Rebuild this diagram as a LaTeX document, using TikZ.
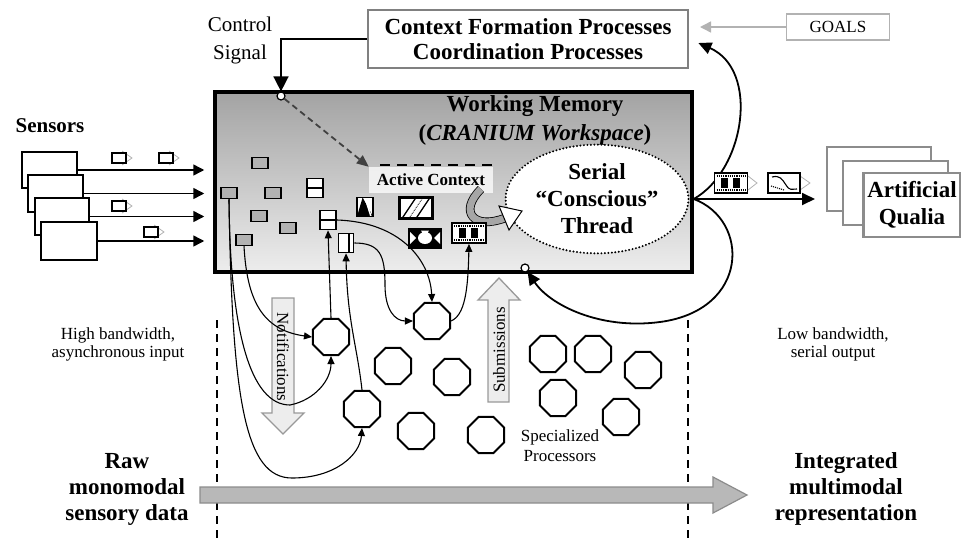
\documentclass[tikz,border=0pt]{standalone}
\usepackage{fontspec}
\setmainfont{Liberation Serif}
\usetikzlibrary{arrows.meta, shapes.geometric, calc}
\definecolor{wmtop}{gray}{0.64}
\definecolor{wmbot}{gray}{0.93}
\definecolor{frame}{gray}{0.5}
\definecolor{pale}{gray}{0.93}
\definecolor{gray70}{gray}{0.7}
\newcommand{\fsz}[2]{\fontsize{#1}{#2}\selectfont}
\newcommand{\pkt}[2]{%
  \draw[gray70, line width=0.8pt] (#1+3,#2-7) -- (#1+13,#2) -- (#1+3,#2+7);
  \draw[line width=1.6pt, fill=white] (#1-7,#2-5) rectangle (#1+7,#2+5);}

\begin{document}
\begin{tikzpicture}[x=1pt, y=-1pt,
  item/.style={draw, line width=1.5pt, fill=black!30, minimum width=16pt, minimum height=11pt, inner sep=0pt},
  band/.style={draw, line width=1.6pt, fill=white, minimum width=16pt, minimum height=19pt, inner sep=0pt,
    path picture={\draw[line width=1.6pt] (path picture bounding box.west) -- (path picture bounding box.east);}},
  bar/.style={draw, line width=1.6pt, fill=white, minimum width=15pt, minimum height=19pt, inner sep=0pt,
    path picture={\draw[line width=1.4pt] ($(path picture bounding box.north)+(3,0)$) -- ($(path picture bounding box.south)+(3,0)$);}},
  film/.style={draw, line width=1.8pt, fill=white, minimum width=34pt, minimum height=20pt, inner sep=0pt,
    path picture={\fill[black] ($(path picture bounding box.center)+(-10,-5)$) rectangle ++(7,10);
      \fill[black] ($(path picture bounding box.center)+(2,-5)$) rectangle ++(7,10);
      \draw[line width=1.2pt, densely dotted] ($(path picture bounding box.north west)+(2,3)$) -- ($(path picture bounding box.north east)+(-2,3)$);
      \draw[line width=1.2pt, densely dotted] ($(path picture bounding box.south west)+(2,-3)$) -- ($(path picture bounding box.south east)+(-2,-3)$);}},
  proc/.style={regular polygon, regular polygon sides=8, draw, line width=2pt, fill=white, minimum size=39pt, inner sep=0pt},
  dot/.style={circle, draw, line width=1.2pt, fill=white, minimum size=8pt, inner sep=0pt},
  sensor/.style={draw, line width=1.8pt, fill=white, inner sep=0pt},
  card/.style={draw=black!45, line width=2.2pt, fill=white, minimum width=104pt, minimum height=64pt, inner sep=0pt},
  conn/.style={line width=1.1pt, -{Triangle[length=8pt, width=7pt]}},
  sarrow/.style={line width=1.5pt, -{Triangle[length=11pt, width=11pt]}},
  rarrow/.style={line width=1.8pt, -{Triangle[length=13pt, width=12pt]}},
  blockarr/.style={fill=pale, draw=black!40, line width=1.3pt},
  vline/.style={line width=1.5pt, dash pattern=on 8pt off 6pt}]

  \useasboundingbox (0,0) rectangle (961,541);

  \node[draw=frame, line width=2.5pt, fill=white, minimum width=320pt, minimum height=58pt, align=center,
    font=\bfseries\fsz{23}{25}] (ctx) at (528,39) {Context Formation Processes\\Coordination Processes};
  \node[draw=black!30, line width=1.5pt, minimum width=103pt, minimum height=26pt, font=\fsz{17}{17}] (goals) at (838,27) {GOALS};
  \coordinate (gin) at (700,27);
  \draw[gray70, line width=1.5pt, -{Triangle[length=11pt, width=11pt]}] (goals.west) -- (gin);

  \node[align=center, font=\fsz{21}{28}] (ctrl) at (240,40) {Control\\Signal};

  \node[draw, line width=3.5pt, top color=wmtop, bottom color=wmbot, minimum width=477pt, minimum height=180pt] (wm) at (453.5,182) {};
  \node[align=center, font=\bfseries\fsz{23}{29}] (wmtitle) at (535,120) {Working Memory\\(\textit{CRANIUM Workspace})};

  \node[dot] (cdot) at (281,96) {};
  \node[dot] (wdot) at (525,268) {};
  \draw[line width=1.5pt, -{Triangle[length=15pt, width=15pt]}] (ctx.west) -| (cdot.north);

  \node[fill=white, fill opacity=0.75, text opacity=1, minimum width=124pt, minimum height=26pt, inner sep=0pt,
    font=\bfseries\fsz{17}{17}] (actx) at (431,180) {Active Context};
  \draw[line width=2.5pt, dash pattern=on 10pt off 7pt] (380,165) -- (493,165);
  \draw[black!75, line width=1.8pt, dash pattern=on 6pt off 4pt, -{Triangle[length=12pt, width=10pt]}] (cdot) -- (actx.north west);

  \node[ellipse, draw, line width=2.2pt, line cap=round, dash pattern=on 0pt off 3.5pt, fill=white, minimum width=171pt,
    minimum height=100pt, align=center, font=\bfseries\fsz{23}{27}] (thread) at (597,199) {Serial\\“Conscious”\\Thread};

  \draw[double=black!35, double distance=7pt, line width=0.8pt] (481,189) .. controls (458,212) and (474,230) .. (505,218);
  \draw[fill=white, line width=1pt] (522,211) -- (509,230) -- (499,206) -- cycle;

  \node[item] (m1) at (260,163) {};
  \node[item] (m2) at (229,193) {};
  \node[item] (m3) at (273,193) {};
  \node[item] (m4) at (259,216) {};
  \node[item] (m5) at (288,228) {};
  \node[item] (m6) at (244,240) {};

  \node[band] (b1) at (315,188) {};
  \node[band] (b2) at (328,220) {};
  \node[bar] (b3) at (346,243) {};

  \node[draw, line width=1.6pt, fill=white, minimum width=16pt, minimum height=19pt, inner sep=0pt,
    path picture={\fill[black] (path picture bounding box.south west) -- ($(path picture bounding box.north west)!0.35!(path picture bounding box.north east)$) -- (path picture bounding box.south east) -- cycle;
      \draw[white, line width=1.5pt] ($(path picture bounding box.north west)!0.5!(path picture bounding box.north east)$) -- ($(path picture bounding box.south east)+(-2,0)$);}] (d1) at (365,207) {};
  \node[draw, line width=2.4pt, fill=white, minimum width=33pt, minimum height=21pt, inner sep=0pt,
    path picture={\draw[line width=1.3pt] ($(path picture bounding box.south)+(-14,0)$) -- ($(path picture bounding box.north)+(0,0)$);
      \draw[line width=1.3pt] ($(path picture bounding box.south)+(0,0)$) -- ($(path picture bounding box.north)+(14,0)$);
      \draw[line width=0.8pt, densely dotted] ($(path picture bounding box.south)+(-7,0)$) -- ($(path picture bounding box.north)+(7,0)$);}] (h1) at (416,208) {};
  \node[fill=black, minimum width=34pt, minimum height=21pt, inner sep=0pt,
    path picture={\fill[white] (path picture bounding box.center) ellipse (7pt and 6pt);
      \fill[white] ($(path picture bounding box.north)+(-4,3)$) -- ($(path picture bounding box.north)+(4,3)$) -- (path picture bounding box.center) -- cycle;
      \fill[white] ($(path picture bounding box.west)+(2,-6)$) -- ($(path picture bounding box.west)+(2,6)$) -- ($(path picture bounding box.west)+(8,0)$) -- cycle;
      \fill[white] ($(path picture bounding box.east)+(-2,-6)$) -- ($(path picture bounding box.east)+(-2,6)$) -- ($(path picture bounding box.east)+(-8,0)$) -- cycle;}] (k1) at (425,238) {};
  \node[film] (f1) at (469,233) {};

  \node[sensor, minimum width=55pt, minimum height=36pt] (s1) at (49.5,170) {};
  \node[sensor, minimum width=55pt, minimum height=37pt] (s2) at (55.5,193.5) {};
  \node[sensor, minimum width=54pt, minimum height=37pt] (s3) at (62,216.5) {};
  \node[sensor, minimum width=56pt, minimum height=38pt] (s4) at (69,241) {};
  \node[font=\bfseries\fsz{21}{21}] (senslbl) at (50,126) {Sensors};
  \draw[sarrow, shorten >=9pt] (s1.east) -- (s1.east -| wm.west);
  \draw[sarrow, shorten >=9pt] (s2.east) -- (s2.east -| wm.west);
  \draw[sarrow, shorten >=9pt] (s3.east) -- (s3.east -| wm.west);
  \draw[sarrow, shorten >=9pt] (s4.east) -- (s4.east -| wm.west);
  \pkt{119}{158}
  \pkt{166}{158}
  \pkt{119}{206}
  \pkt{151}{232}

  \node[proc] (p1) at (331,337) {};
  \node[proc] (p2) at (432,321) {};
  \node[proc] (p3) at (393,366) {};
  \node[proc] (p4) at (452,377) {};
  \node[proc] (p5) at (362,409) {};
  \node[proc] (p6) at (416,431) {};
  \node[proc] (p7) at (486,435) {};
  \node[proc] (p8) at (548,354) {};
  \node[proc] (p9) at (593,354) {};
  \node[proc] (p10) at (643,370) {};
  \node[proc] (p11) at (558,398) {};
  \node[proc] (p12) at (621,417) {};

  \draw[blockarr] (272,298) -- (294,298) -- (294,413) -- (304,413) -- (283,434) -- (262,413) -- (272,413) -- cycle;
  \node[rotate=-90, font=\fsz{17}{17}] (notif) at (283,357) {Notifications};
  \draw[blockarr] (499,278) -- (520,300) -- (509,300) -- (509,402) -- (488,402) -- (488,300) -- (478,300) -- cycle;
  \node[rotate=90, font=\fsz{17}{17}] (subm) at (499,350) {Submissions};

  \draw[conn] (m6.south) .. controls (247,300) and (262,330) .. (p1.west);
  \draw[conn] (m2.south) .. controls (230,330) and (250,405) .. (290,405) .. controls (315,400) and (331,380) .. (p1.south);
  \draw[conn] (m2.south) .. controls (232,400) and (245,478) .. (292,478) .. controls (335,478) and (360,455) .. (p5.south);
  \draw[conn] (p1.north) -- (b2.south);
  \draw[conn] (p5.north) .. controls (357,345) and (347,320) .. (b3.south);
  \draw[conn] (b2.east) .. controls (400,222) and (430,260) .. (p2.north);
  \draw[conn] (b3.east) .. controls (380,243) and (385,255) .. (385,285) .. controls (385,310) and (395,321) .. (p2.west);
  \draw[conn] (p2.east) .. controls (465,315) and (468,290) .. (f1.south);

  \coordinate (junc) at (wm.east |- thread.east);
  \coordinate (qin) at (815,199);
  \draw[line width=1.8pt] (thread.east) -- (junc);
  \draw[rarrow] (junc) -- (qin);
  \draw[rarrow, shorten >=10pt] (junc) .. controls (745,170) and (760,70) .. (ctx.east);
  \draw[rarrow] (junc) .. controls (750,220) and (750,310) .. (660,322) .. controls (600,330) and (550,305) .. (wdot);

  \node[film, minimum width=33pt] (f2) at (731,183) {};
  \draw[gray70, line width=0.8pt] (748,176) -- (757,183) -- (748,190);
  \draw[gray70, line width=0.8pt] (800,176) -- (810,183) -- (800,190);
  \node[draw, line width=2pt, fill=white, minimum width=32pt, minimum height=20pt, inner sep=0pt,
    path picture={\draw[line width=1.1pt] ($(path picture bounding box.north west)+(4,4)$) .. controls +(8,-2) and +(-4,-6) .. ($(path picture bounding box.center)+(2,2)$) .. controls +(4,6) and +(-6,0) .. ($(path picture bounding box.south east)+(-3,-4)$);
      \draw[line width=1.1pt, densely dotted] ($(path picture bounding box.west)+(3,3)$) -- ($(path picture bounding box.south)+(0,-3)$);}] (map) at (784,183) {};

  \node[card] (q1) at (879,179) {};
  \node[card, minimum width=105pt] (q2) at (895.5,193) {};
  \node[card, minimum width=97pt, align=center, font=\bfseries\fsz{23}{27}] (q3) at (912,205) {Artificial\\Qualia};

  \draw[vline] (217,320) -- (217,541);
  \draw[vline] (688,320) -- (688,541);

  \draw[fill=black!28, draw=black!45, line width=1.2pt] (200,487) -- (713,487) -- (713,477) -- (747,495) -- (713,513) -- (713,503) -- (200,503) -- cycle;

  \node[align=center, font=\fsz{17}{18}] (hbw) at (118,344) {High bandwidth,\\asynchronous input};
  \node[align=center, font=\fsz{17}{18}] (lbw) at (833,344) {Low bandwidth,\\serial output};
  \node[align=center, font=\fsz{17}{20}] (spec) at (560,446) {Specialized\\Processors};
  \node[align=center, font=\bfseries\fsz{23}{26}] (raw) at (127,489) {Raw\\monomodal\\sensory data};
  \node[align=center, font=\bfseries\fsz{23}{26}] (integ) at (846,489) {Integrated\\multimodal\\representation};
\end{tikzpicture}
\end{document}
